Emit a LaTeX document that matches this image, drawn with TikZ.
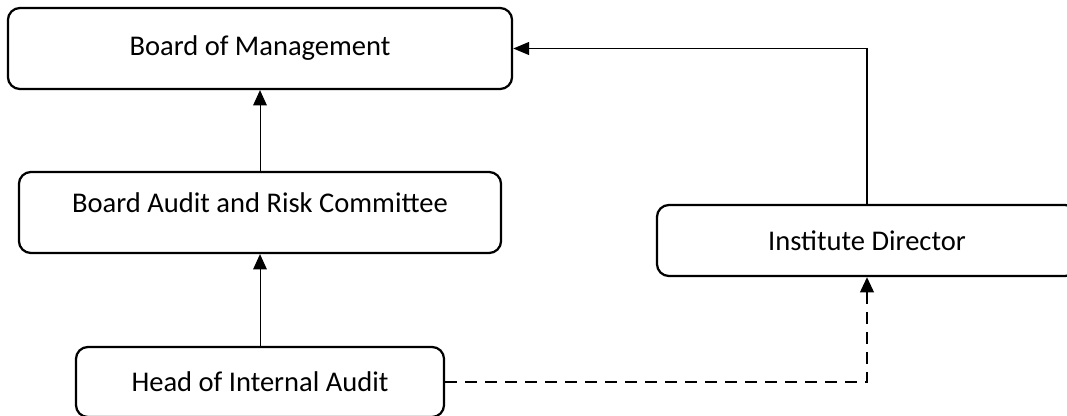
\documentclass[tikz,border=0pt]{standalone}
\usepackage{fontspec}
\setmainfont{Carlito}
\usetikzlibrary{arrows.meta}
\begin{document}
\begin{tikzpicture}[x=0.025cm, y=-0.025cm,
  orgbox/.style={draw, line width=1.6pt, rounded corners=0.3cm, align=center,
    font=\fontsize{20.3}{24}\selectfont, inner sep=0pt},
  thinarrow/.style={line width=0.7pt, -{Triangle[length=0.38cm, width=0.34cm]}},
  thickarrow/.style={line width=1.4pt, -{Triangle[length=0.4cm, width=0.32cm]}},
  dasharrow/.style={line width=1.5pt, dash pattern=on 0.3cm off 0.2cm,
    -{Triangle[length=0.38cm, width=0.34cm]}}
]
\useasboundingbox (0,0) rectangle (1067,415);

\node[orgbox, minimum width=12.6cm, minimum height=2.025cm] (bom) at (260,48.5) {Board of Management};
\node[orgbox, minimum width=12.05cm, minimum height=2.025cm, text depth=0.48cm] (barc) at (260,212.5) {Board Audit and Risk Committee};
\node[orgbox, minimum width=10.5cm, minimum height=1.775cm] (dir) at (867,240.5) {Institute Director};
\node[orgbox, minimum width=9.2cm, minimum height=1.75cm] (hia) at (260,382) {Head of Internal Audit};

\draw[thinarrow] (barc) -- (bom);
\draw[thinarrow] (hia) -- (barc);
\draw[thickarrow] (dir.north) |- (bom.east);
\draw[dasharrow] (hia.east) -| (dir.south);
\end{tikzpicture}
\end{document}
